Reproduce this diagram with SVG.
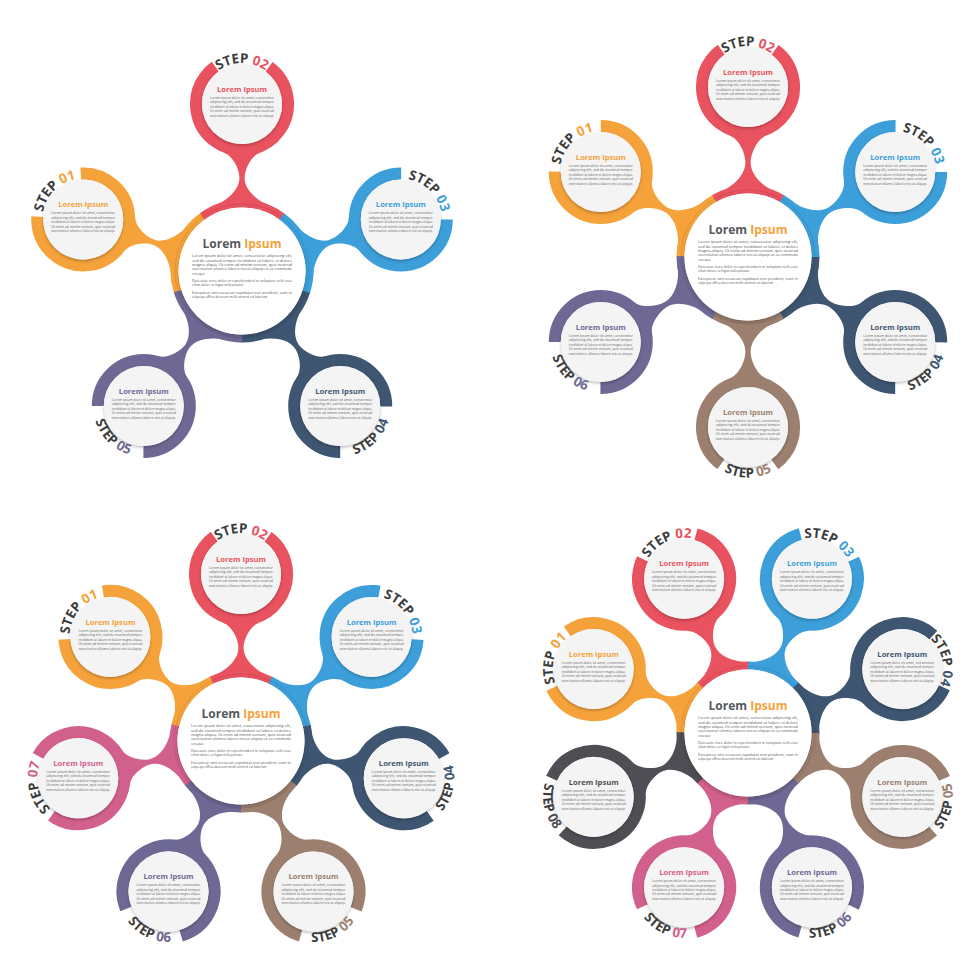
<svg xmlns="http://www.w3.org/2000/svg" xmlns:xlink="http://www.w3.org/1999/xlink" width="980" height="980" viewBox="0 0 980 980">
<style>
.or{--c:#F5A23A}.rd{--c:#E9525F}.bl{--c:#3C9FDA}.nv{--c:#3E5672}.pu{--c:#6E6894}.br{--c:#9C7F6F}.pk{--c:#D2608C}.dg{--c:#4F4E54}
.stem{fill:var(--c)}
.seg{fill:none;stroke:var(--c);stroke-width:8}
.hubline{fill:none;stroke:#000;stroke-opacity:0.12;stroke-width:0.8}
.ring{fill:none;stroke:var(--c);stroke-width:12}
.in{fill:#f4f4f4;filter:url(#sh)}
.hubin{fill:#ffffff;filter:url(#sh)}
.lbl{font-family:"Open Sans","DejaVu Sans",sans-serif;font-weight:700;font-size:13.4px;fill:#3b3b3b;text-anchor:middle}
.num{fill:var(--c)}
.nt{font-family:"Open Sans","DejaVu Sans",sans-serif;font-weight:700;font-size:7.6px;fill:var(--c);text-anchor:middle}
.nb{font-family:"Open Sans","DejaVu Sans",sans-serif;font-size:3.5px;fill:#666}
.ct{font-family:"Open Sans","DejaVu Sans",sans-serif;font-weight:700;font-size:12px;fill:#55585d;text-anchor:middle}
.cto{fill:#F5A23A}
.cb{font-family:"Open Sans","DejaVu Sans",sans-serif;font-size:4.1px;fill:#555}
</style>
<defs>
<filter id="sh" x="-30%" y="-30%" width="160%" height="160%"><feDropShadow dx="0" dy="1.5" stdDeviation="1.5" flood-color="#000" flood-opacity="0.28"/></filter>
<path id="cw" d="M 0,-41 A 41 41 0 0 1 0,41"/>
<path id="ccw" d="M 0,50.5 A 50.5 50.5 0 0 0 0,-50.5"/>
<path id="st167" d="M 65.83,26.6 C 71.1,13.6 82,2.6 93,2.6 C 102,2.6 115.06,9.33 118.14,17.79 L 118.14,-17.79 C 115.06,-9.33 102,-2.6 93,-2.6 C 82,-2.6 71.1,-13.6 65.83,-26.6 Z"/>
<path id="st170" d="M 65.83,26.6 C 71.1,13.6 83,2.6 94.5,2.6 C 104,2.6 118.06,9.33 121.14,17.79 L 121.14,-17.79 C 118.06,-9.33 104,-2.6 94.5,-2.6 C 83,-2.6 71.1,-13.6 65.83,-26.6 Z"/>
</defs>
<rect width="980" height="980" fill="#ffffff"/>

<g id="connectors">
<use href="#st167" class="stem or" transform="translate(242,271) rotate(198)"/>
<use href="#st167" class="stem rd" transform="translate(242,271) rotate(270)"/>
<use href="#st167" class="stem bl" transform="translate(242,271) rotate(342)"/>
<use href="#st167" class="stem nv" transform="translate(242,271) rotate(54)"/>
<use href="#st167" class="stem pu" transform="translate(242,271) rotate(126)"/>

<use href="#st170" class="stem or" transform="translate(748,257) rotate(210)"/>
<use href="#st170" class="stem rd" transform="translate(748,257) rotate(270)"/>
<use href="#st170" class="stem bl" transform="translate(748,257) rotate(330)"/>
<use href="#st170" class="stem nv" transform="translate(748,257) rotate(30)"/>
<use href="#st170" class="stem br" transform="translate(748,257) rotate(90)"/>
<use href="#st170" class="stem pu" transform="translate(748,257) rotate(150)"/>

<use href="#st167" class="stem or" transform="translate(241,741) rotate(218.57)"/>
<use href="#st167" class="stem rd" transform="translate(241,741) rotate(270)"/>
<use href="#st167" class="stem bl" transform="translate(241,741) rotate(321.43)"/>
<use href="#st167" class="stem nv" transform="translate(241,741) rotate(12.86)"/>
<use href="#st167" class="stem br" transform="translate(241,741) rotate(64.29)"/>
<use href="#st167" class="stem pu" transform="translate(241,741) rotate(115.71)"/>
<use href="#st167" class="stem pk" transform="translate(241,741) rotate(167.14)"/>

<use href="#st167" class="stem or" transform="translate(748,733) rotate(202.5)"/>
<use href="#st167" class="stem rd" transform="translate(748,733) rotate(247.5)"/>
<use href="#st167" class="stem bl" transform="translate(748,733) rotate(292.5)"/>
<use href="#st167" class="stem nv" transform="translate(748,733) rotate(337.5)"/>
<use href="#st167" class="stem br" transform="translate(748,733) rotate(22.5)"/>
<use href="#st167" class="stem pu" transform="translate(748,733) rotate(67.5)"/>
<use href="#st167" class="stem pk" transform="translate(748,733) rotate(112.5)"/>
<use href="#st167" class="stem dg" transform="translate(748,733) rotate(157.5)"/>
</g>

<!-- ===== PANEL 1 ===== -->
<g id="p1-hub" transform="translate(242,271)">
<circle class="seg or" r="67.5" stroke-dasharray="85.4 400" transform="rotate(162)"/>
<circle class="seg rd" r="67.5" stroke-dasharray="85.4 400" transform="rotate(234)"/>
<circle class="seg bl" r="67.5" stroke-dasharray="85.4 400" transform="rotate(306)"/>
<circle class="seg nv" r="67.5" stroke-dasharray="85.4 400" transform="rotate(18)"/>
<circle class="seg pu" r="67.5" stroke-dasharray="85.4 400" transform="rotate(90)"/>
<circle class="hubline" r="67"/>
<circle class="hubin" r="63.5"/>
<text class="ct" y="-23.5">Lorem <tspan class="cto">Ipsum</tspan></text>
<text class="cb" x="-50" y="-13.8" textLength="100" lengthAdjust="spacingAndGlyphs">Lorem ipsum dolor sit amet, consectetur adipiscing elit,</text>
<text class="cb" x="-50" y="-9.45" textLength="100" lengthAdjust="spacingAndGlyphs">sed do eiusmod tempor incididunt ut labore et dolore</text>
<text class="cb" x="-50" y="-5.1" textLength="100" lengthAdjust="spacingAndGlyphs">magna aliqua. Ut enim ad minim veniam, quis nostrud</text>
<text class="cb" x="-50" y="-0.75" textLength="100" lengthAdjust="spacingAndGlyphs">exercitation ullamco laboris nisi ut aliquip ex ea commodo</text>
<text class="cb" x="-50" y="3.6" textLength="13" lengthAdjust="spacingAndGlyphs">consequat.</text>
<text class="cb" x="-50" y="11" textLength="100" lengthAdjust="spacingAndGlyphs">Duis aute irure dolor in reprehenderit in voluptate velit esse</text>
<text class="cb" x="-50" y="15.35" textLength="52" lengthAdjust="spacingAndGlyphs">cillum dolore eu fugiat nulla pariatur.</text>
<text class="cb" x="-50" y="22.9" textLength="100" lengthAdjust="spacingAndGlyphs">Excepteur sint occaecat cupidatat non proident, sunt in</text>
<text class="cb" x="-50" y="27.25" textLength="76" lengthAdjust="spacingAndGlyphs">culpa qui officia deserunt mollit anim id est laborum.</text>
</g>

<g id="p1-step01" class="or" transform="translate(83.2,219.4)">
<circle class="ring" r="46" stroke-dasharray="221.6 67.4" transform="rotate(267)"/>
<circle class="in" r="40"/>
<text class="lbl" transform="rotate(225)"><textPath href="#cw" startOffset="50%">STEP <tspan class="num">01</tspan></textPath></text>
<text class="nt" y="-12.3">Lorem Ipsum</text>
<text class="nb" x="-32" y="-5.3" textLength="64" lengthAdjust="spacingAndGlyphs">Lorem ipsum dolor sit amet, consectetur</text>
<text class="nb" x="-32" y="-0.8" textLength="64" lengthAdjust="spacingAndGlyphs">adipiscing elit, sed do eiusmod tempor</text>
<text class="nb" x="-32" y="3.7" textLength="64" lengthAdjust="spacingAndGlyphs">incididunt ut labore et dolore magna aliqua.</text>
<text class="nb" x="-32" y="8.2" textLength="64" lengthAdjust="spacingAndGlyphs">Ut enim ad minim veniam, quis nostrud</text>
<text class="nb" x="-32" y="12.7" textLength="64" lengthAdjust="spacingAndGlyphs">exercitation ullamco laboris nisi ut aliquip.</text>
</g>

<g id="p1-step02" class="rd" transform="translate(242,104)">
<circle class="ring" r="46" stroke-dasharray="231.2 57.8" transform="rotate(-54)"/>
<circle class="in" r="40"/>
<text class="lbl" transform="rotate(-90)"><textPath href="#cw" startOffset="50%">STEP <tspan class="num">02</tspan></textPath></text>
<text class="nt" y="-12.3">Lorem Ipsum</text>
<text class="nb" x="-32" y="-5.3" textLength="64" lengthAdjust="spacingAndGlyphs">Lorem ipsum dolor sit amet, consectetur</text>
<text class="nb" x="-32" y="-0.8" textLength="64" lengthAdjust="spacingAndGlyphs">adipiscing elit, sed do eiusmod tempor</text>
<text class="nb" x="-32" y="3.7" textLength="64" lengthAdjust="spacingAndGlyphs">incididunt ut labore et dolore magna aliqua.</text>
<text class="nb" x="-32" y="8.2" textLength="64" lengthAdjust="spacingAndGlyphs">Ut enim ad minim veniam, quis nostrud</text>
<text class="nb" x="-32" y="12.7" textLength="64" lengthAdjust="spacingAndGlyphs">exercitation ullamco laboris nisi ut aliquip.</text>
</g>

<g id="p1-step03" class="bl" transform="translate(400.8,219.4)">
<circle class="ring" r="46" stroke-dasharray="216.8 72.3" transform="rotate(0)"/>
<circle class="in" r="40"/>
<text class="lbl" transform="rotate(-45)"><textPath href="#cw" startOffset="50%">STEP <tspan class="num">03</tspan></textPath></text>
<text class="nt" y="-12.3">Lorem Ipsum</text>
<text class="nb" x="-32" y="-5.3" textLength="64" lengthAdjust="spacingAndGlyphs">Lorem ipsum dolor sit amet, consectetur</text>
<text class="nb" x="-32" y="-0.8" textLength="64" lengthAdjust="spacingAndGlyphs">adipiscing elit, sed do eiusmod tempor</text>
<text class="nb" x="-32" y="3.7" textLength="64" lengthAdjust="spacingAndGlyphs">incididunt ut labore et dolore magna aliqua.</text>
<text class="nb" x="-32" y="8.2" textLength="64" lengthAdjust="spacingAndGlyphs">Ut enim ad minim veniam, quis nostrud</text>
<text class="nb" x="-32" y="12.7" textLength="64" lengthAdjust="spacingAndGlyphs">exercitation ullamco laboris nisi ut aliquip.</text>
</g>

<g id="p1-step04" class="nv" transform="translate(340.2,406.1)">
<circle class="ring" r="46" stroke-dasharray="216.8 72.3" transform="rotate(90)"/>
<circle class="in" r="40"/>
<text class="lbl" transform="rotate(45)"><textPath href="#ccw" startOffset="50%">STEP <tspan class="num">04</tspan></textPath></text>
<text class="nt" y="-12.3">Lorem Ipsum</text>
<text class="nb" x="-32" y="-5.3" textLength="64" lengthAdjust="spacingAndGlyphs">Lorem ipsum dolor sit amet, consectetur</text>
<text class="nb" x="-32" y="-0.8" textLength="64" lengthAdjust="spacingAndGlyphs">adipiscing elit, sed do eiusmod tempor</text>
<text class="nb" x="-32" y="3.7" textLength="64" lengthAdjust="spacingAndGlyphs">incididunt ut labore et dolore magna aliqua.</text>
<text class="nb" x="-32" y="8.2" textLength="64" lengthAdjust="spacingAndGlyphs">Ut enim ad minim veniam, quis nostrud</text>
<text class="nb" x="-32" y="12.7" textLength="64" lengthAdjust="spacingAndGlyphs">exercitation ullamco laboris nisi ut aliquip.</text>
</g>

<g id="p1-step05" class="pu" transform="translate(143.8,406.1)">
<circle class="ring" r="46" stroke-dasharray="216.8 72.3" transform="rotate(180)"/>
<circle class="in" r="40"/>
<text class="lbl" transform="rotate(135)"><textPath href="#ccw" startOffset="50%">STEP <tspan class="num">05</tspan></textPath></text>
<text class="nt" y="-12.3">Lorem Ipsum</text>
<text class="nb" x="-32" y="-5.3" textLength="64" lengthAdjust="spacingAndGlyphs">Lorem ipsum dolor sit amet, consectetur</text>
<text class="nb" x="-32" y="-0.8" textLength="64" lengthAdjust="spacingAndGlyphs">adipiscing elit, sed do eiusmod tempor</text>
<text class="nb" x="-32" y="3.7" textLength="64" lengthAdjust="spacingAndGlyphs">incididunt ut labore et dolore magna aliqua.</text>
<text class="nb" x="-32" y="8.2" textLength="64" lengthAdjust="spacingAndGlyphs">Ut enim ad minim veniam, quis nostrud</text>
<text class="nb" x="-32" y="12.7" textLength="64" lengthAdjust="spacingAndGlyphs">exercitation ullamco laboris nisi ut aliquip.</text>
</g>

<!-- ===== PANEL 2 ===== -->
<g id="p2-hub" transform="translate(748,257)">
<circle class="seg or" r="67.5" stroke-dasharray="71.3 400" transform="rotate(180)"/>
<circle class="seg rd" r="67.5" stroke-dasharray="71.3 400" transform="rotate(240)"/>
<circle class="seg bl" r="67.5" stroke-dasharray="71.3 400" transform="rotate(300)"/>
<circle class="seg nv" r="67.5" stroke-dasharray="71.3 400" transform="rotate(0)"/>
<circle class="seg br" r="67.5" stroke-dasharray="71.3 400" transform="rotate(60)"/>
<circle class="seg pu" r="67.5" stroke-dasharray="71.3 400" transform="rotate(120)"/>
<circle class="hubline" r="67"/>
<circle class="hubin" r="63.5"/>
<text class="ct" y="-23.5">Lorem <tspan class="cto">Ipsum</tspan></text>
<text class="cb" x="-50" y="-13.8" textLength="100" lengthAdjust="spacingAndGlyphs">Lorem ipsum dolor sit amet, consectetur adipiscing elit,</text>
<text class="cb" x="-50" y="-9.45" textLength="100" lengthAdjust="spacingAndGlyphs">sed do eiusmod tempor incididunt ut labore et dolore</text>
<text class="cb" x="-50" y="-5.1" textLength="100" lengthAdjust="spacingAndGlyphs">magna aliqua. Ut enim ad minim veniam, quis nostrud</text>
<text class="cb" x="-50" y="-0.75" textLength="100" lengthAdjust="spacingAndGlyphs">exercitation ullamco laboris nisi ut aliquip ex ea commodo</text>
<text class="cb" x="-50" y="3.6" textLength="13" lengthAdjust="spacingAndGlyphs">consequat.</text>
<text class="cb" x="-50" y="11" textLength="100" lengthAdjust="spacingAndGlyphs">Duis aute irure dolor in reprehenderit in voluptate velit esse</text>
<text class="cb" x="-50" y="15.35" textLength="52" lengthAdjust="spacingAndGlyphs">cillum dolore eu fugiat nulla pariatur.</text>
<text class="cb" x="-50" y="22.9" textLength="100" lengthAdjust="spacingAndGlyphs">Excepteur sint occaecat cupidatat non proident, sunt in</text>
<text class="cb" x="-50" y="27.25" textLength="76" lengthAdjust="spacingAndGlyphs">culpa qui officia deserunt mollit anim id est laborum.</text>
</g>

<g id="p2-step01" class="or" transform="translate(600.8,172)">
<circle class="ring" r="46" stroke-dasharray="216.8 72.3" transform="rotate(270)"/>
<circle class="in" r="40"/>
<text class="lbl" transform="rotate(225)"><textPath href="#cw" startOffset="50%">STEP <tspan class="num">01</tspan></textPath></text>
<text class="nt" y="-12.3">Lorem Ipsum</text>
<text class="nb" x="-32" y="-5.3" textLength="64" lengthAdjust="spacingAndGlyphs">Lorem ipsum dolor sit amet, consectetur</text>
<text class="nb" x="-32" y="-0.8" textLength="64" lengthAdjust="spacingAndGlyphs">adipiscing elit, sed do eiusmod tempor</text>
<text class="nb" x="-32" y="3.7" textLength="64" lengthAdjust="spacingAndGlyphs">incididunt ut labore et dolore magna aliqua.</text>
<text class="nb" x="-32" y="8.2" textLength="64" lengthAdjust="spacingAndGlyphs">Ut enim ad minim veniam, quis nostrud</text>
<text class="nb" x="-32" y="12.7" textLength="64" lengthAdjust="spacingAndGlyphs">exercitation ullamco laboris nisi ut aliquip.</text>
</g>

<g id="p2-step02" class="rd" transform="translate(748,87)">
<circle class="ring" r="46" stroke-dasharray="231.2 57.8" transform="rotate(-54)"/>
<circle class="in" r="40"/>
<text class="lbl" transform="rotate(-90)"><textPath href="#cw" startOffset="50%">STEP <tspan class="num">02</tspan></textPath></text>
<text class="nt" y="-12.3">Lorem Ipsum</text>
<text class="nb" x="-32" y="-5.3" textLength="64" lengthAdjust="spacingAndGlyphs">Lorem ipsum dolor sit amet, consectetur</text>
<text class="nb" x="-32" y="-0.8" textLength="64" lengthAdjust="spacingAndGlyphs">adipiscing elit, sed do eiusmod tempor</text>
<text class="nb" x="-32" y="3.7" textLength="64" lengthAdjust="spacingAndGlyphs">incididunt ut labore et dolore magna aliqua.</text>
<text class="nb" x="-32" y="8.2" textLength="64" lengthAdjust="spacingAndGlyphs">Ut enim ad minim veniam, quis nostrud</text>
<text class="nb" x="-32" y="12.7" textLength="64" lengthAdjust="spacingAndGlyphs">exercitation ullamco laboris nisi ut aliquip.</text>
</g>

<g id="p2-step03" class="bl" transform="translate(895.2,172)">
<circle class="ring" r="46" stroke-dasharray="216.8 72.3" transform="rotate(0)"/>
<circle class="in" r="40"/>
<text class="lbl" transform="rotate(-45)"><textPath href="#cw" startOffset="50%">STEP <tspan class="num">03</tspan></textPath></text>
<text class="nt" y="-12.3">Lorem Ipsum</text>
<text class="nb" x="-32" y="-5.3" textLength="64" lengthAdjust="spacingAndGlyphs">Lorem ipsum dolor sit amet, consectetur</text>
<text class="nb" x="-32" y="-0.8" textLength="64" lengthAdjust="spacingAndGlyphs">adipiscing elit, sed do eiusmod tempor</text>
<text class="nb" x="-32" y="3.7" textLength="64" lengthAdjust="spacingAndGlyphs">incididunt ut labore et dolore magna aliqua.</text>
<text class="nb" x="-32" y="8.2" textLength="64" lengthAdjust="spacingAndGlyphs">Ut enim ad minim veniam, quis nostrud</text>
<text class="nb" x="-32" y="12.7" textLength="64" lengthAdjust="spacingAndGlyphs">exercitation ullamco laboris nisi ut aliquip.</text>
</g>

<g id="p2-step04" class="nv" transform="translate(895.2,342)">
<circle class="ring" r="46" stroke-dasharray="216.8 72.3" transform="rotate(90)"/>
<circle class="in" r="40"/>
<text class="lbl" transform="rotate(45)"><textPath href="#ccw" startOffset="50%">STEP <tspan class="num">04</tspan></textPath></text>
<text class="nt" y="-12.3">Lorem Ipsum</text>
<text class="nb" x="-32" y="-5.3" textLength="64" lengthAdjust="spacingAndGlyphs">Lorem ipsum dolor sit amet, consectetur</text>
<text class="nb" x="-32" y="-0.8" textLength="64" lengthAdjust="spacingAndGlyphs">adipiscing elit, sed do eiusmod tempor</text>
<text class="nb" x="-32" y="3.7" textLength="64" lengthAdjust="spacingAndGlyphs">incididunt ut labore et dolore magna aliqua.</text>
<text class="nb" x="-32" y="8.2" textLength="64" lengthAdjust="spacingAndGlyphs">Ut enim ad minim veniam, quis nostrud</text>
<text class="nb" x="-32" y="12.7" textLength="64" lengthAdjust="spacingAndGlyphs">exercitation ullamco laboris nisi ut aliquip.</text>
</g>

<g id="p2-step05" class="br" transform="translate(748,427)">
<circle class="ring" r="46" stroke-dasharray="231.2 57.8" transform="rotate(126)"/>
<circle class="in" r="40"/>
<text class="lbl" transform="rotate(90)"><textPath href="#ccw" startOffset="50%">STEP <tspan class="num">05</tspan></textPath></text>
<text class="nt" y="-12.3">Lorem Ipsum</text>
<text class="nb" x="-32" y="-5.3" textLength="64" lengthAdjust="spacingAndGlyphs">Lorem ipsum dolor sit amet, consectetur</text>
<text class="nb" x="-32" y="-0.8" textLength="64" lengthAdjust="spacingAndGlyphs">adipiscing elit, sed do eiusmod tempor</text>
<text class="nb" x="-32" y="3.7" textLength="64" lengthAdjust="spacingAndGlyphs">incididunt ut labore et dolore magna aliqua.</text>
<text class="nb" x="-32" y="8.2" textLength="64" lengthAdjust="spacingAndGlyphs">Ut enim ad minim veniam, quis nostrud</text>
<text class="nb" x="-32" y="12.7" textLength="64" lengthAdjust="spacingAndGlyphs">exercitation ullamco laboris nisi ut aliquip.</text>
</g>

<g id="p2-step06" class="pu" transform="translate(600.8,342)">
<circle class="ring" r="46" stroke-dasharray="216.8 72.3" transform="rotate(180)"/>
<circle class="in" r="40"/>
<text class="lbl" transform="rotate(135)"><textPath href="#ccw" startOffset="50%">STEP <tspan class="num">06</tspan></textPath></text>
<text class="nt" y="-12.3">Lorem Ipsum</text>
<text class="nb" x="-32" y="-5.3" textLength="64" lengthAdjust="spacingAndGlyphs">Lorem ipsum dolor sit amet, consectetur</text>
<text class="nb" x="-32" y="-0.8" textLength="64" lengthAdjust="spacingAndGlyphs">adipiscing elit, sed do eiusmod tempor</text>
<text class="nb" x="-32" y="3.7" textLength="64" lengthAdjust="spacingAndGlyphs">incididunt ut labore et dolore magna aliqua.</text>
<text class="nb" x="-32" y="8.2" textLength="64" lengthAdjust="spacingAndGlyphs">Ut enim ad minim veniam, quis nostrud</text>
<text class="nb" x="-32" y="12.7" textLength="64" lengthAdjust="spacingAndGlyphs">exercitation ullamco laboris nisi ut aliquip.</text>
</g>

<!-- ===== PANEL 3 ===== -->
<g id="p3-hub" transform="translate(241,741)">
<circle class="seg or" r="67.5" stroke-dasharray="61.2 400" transform="rotate(192.86)"/>
<circle class="seg rd" r="67.5" stroke-dasharray="61.2 400" transform="rotate(244.29)"/>
<circle class="seg bl" r="67.5" stroke-dasharray="61.2 400" transform="rotate(295.71)"/>
<circle class="seg nv" r="67.5" stroke-dasharray="61.2 400" transform="rotate(-12.86)"/>
<circle class="seg br" r="67.5" stroke-dasharray="61.2 400" transform="rotate(38.57)"/>
<circle class="seg pu" r="67.5" stroke-dasharray="61.2 400" transform="rotate(90)"/>
<circle class="seg pk" r="67.5" stroke-dasharray="61.2 400" transform="rotate(141.43)"/>
<circle class="hubline" r="67"/>
<circle class="hubin" r="63.5"/>
<text class="ct" y="-23.5">Lorem <tspan class="cto">Ipsum</tspan></text>
<text class="cb" x="-50" y="-13.8" textLength="100" lengthAdjust="spacingAndGlyphs">Lorem ipsum dolor sit amet, consectetur adipiscing elit,</text>
<text class="cb" x="-50" y="-9.45" textLength="100" lengthAdjust="spacingAndGlyphs">sed do eiusmod tempor incididunt ut labore et dolore</text>
<text class="cb" x="-50" y="-5.1" textLength="100" lengthAdjust="spacingAndGlyphs">magna aliqua. Ut enim ad minim veniam, quis nostrud</text>
<text class="cb" x="-50" y="-0.75" textLength="100" lengthAdjust="spacingAndGlyphs">exercitation ullamco laboris nisi ut aliquip ex ea commodo</text>
<text class="cb" x="-50" y="3.6" textLength="13" lengthAdjust="spacingAndGlyphs">consequat.</text>
<text class="cb" x="-50" y="11" textLength="100" lengthAdjust="spacingAndGlyphs">Duis aute irure dolor in reprehenderit in voluptate velit esse</text>
<text class="cb" x="-50" y="15.35" textLength="52" lengthAdjust="spacingAndGlyphs">cillum dolore eu fugiat nulla pariatur.</text>
<text class="cb" x="-50" y="22.9" textLength="100" lengthAdjust="spacingAndGlyphs">Excepteur sint occaecat cupidatat non proident, sunt in</text>
<text class="cb" x="-50" y="27.25" textLength="76" lengthAdjust="spacingAndGlyphs">culpa qui officia deserunt mollit anim id est laborum.</text>
</g>

<g id="p3-step01" class="or" transform="translate(110.4,636.9)">
<circle class="ring" r="46" stroke-dasharray="221.6 67.4" transform="rotate(260.6)"/>
<circle class="in" r="40"/>
<text class="lbl" transform="rotate(218.6)"><textPath href="#cw" startOffset="50%">STEP <tspan class="num">01</tspan></textPath></text>
<text class="nt" y="-12.3">Lorem Ipsum</text>
<text class="nb" x="-32" y="-5.3" textLength="64" lengthAdjust="spacingAndGlyphs">Lorem ipsum dolor sit amet, consectetur</text>
<text class="nb" x="-32" y="-0.8" textLength="64" lengthAdjust="spacingAndGlyphs">adipiscing elit, sed do eiusmod tempor</text>
<text class="nb" x="-32" y="3.7" textLength="64" lengthAdjust="spacingAndGlyphs">incididunt ut labore et dolore magna aliqua.</text>
<text class="nb" x="-32" y="8.2" textLength="64" lengthAdjust="spacingAndGlyphs">Ut enim ad minim veniam, quis nostrud</text>
<text class="nb" x="-32" y="12.7" textLength="64" lengthAdjust="spacingAndGlyphs">exercitation ullamco laboris nisi ut aliquip.</text>
</g>

<g id="p3-step02" class="rd" transform="translate(241,574)">
<circle class="ring" r="46" stroke-dasharray="231.2 57.8" transform="rotate(-54)"/>
<circle class="in" r="40"/>
<text class="lbl" transform="rotate(-90)"><textPath href="#cw" startOffset="50%">STEP <tspan class="num">02</tspan></textPath></text>
<text class="nt" y="-12.3">Lorem Ipsum</text>
<text class="nb" x="-32" y="-5.3" textLength="64" lengthAdjust="spacingAndGlyphs">Lorem ipsum dolor sit amet, consectetur</text>
<text class="nb" x="-32" y="-0.8" textLength="64" lengthAdjust="spacingAndGlyphs">adipiscing elit, sed do eiusmod tempor</text>
<text class="nb" x="-32" y="3.7" textLength="64" lengthAdjust="spacingAndGlyphs">incididunt ut labore et dolore magna aliqua.</text>
<text class="nb" x="-32" y="8.2" textLength="64" lengthAdjust="spacingAndGlyphs">Ut enim ad minim veniam, quis nostrud</text>
<text class="nb" x="-32" y="12.7" textLength="64" lengthAdjust="spacingAndGlyphs">exercitation ullamco laboris nisi ut aliquip.</text>
</g>

<g id="p3-step03" class="bl" transform="translate(371.6,636.9)">
<circle class="ring" r="46" stroke-dasharray="221.6 67.4" transform="rotate(3.4)"/>
<circle class="in" r="40"/>
<text class="lbl" transform="rotate(-38.6)"><textPath href="#cw" startOffset="50%">STEP <tspan class="num">03</tspan></textPath></text>
<text class="nt" y="-12.3">Lorem Ipsum</text>
<text class="nb" x="-32" y="-5.3" textLength="64" lengthAdjust="spacingAndGlyphs">Lorem ipsum dolor sit amet, consectetur</text>
<text class="nb" x="-32" y="-0.8" textLength="64" lengthAdjust="spacingAndGlyphs">adipiscing elit, sed do eiusmod tempor</text>
<text class="nb" x="-32" y="3.7" textLength="64" lengthAdjust="spacingAndGlyphs">incididunt ut labore et dolore magna aliqua.</text>
<text class="nb" x="-32" y="8.2" textLength="64" lengthAdjust="spacingAndGlyphs">Ut enim ad minim veniam, quis nostrud</text>
<text class="nb" x="-32" y="12.7" textLength="64" lengthAdjust="spacingAndGlyphs">exercitation ullamco laboris nisi ut aliquip.</text>
</g>

<g id="p3-step04" class="nv" transform="translate(403.8,778.2)">
<circle class="ring" r="46" stroke-dasharray="221.6 67.4" transform="rotate(54.9)"/>
<circle class="in" r="40"/>
<text class="lbl" transform="rotate(12.9)"><textPath href="#ccw" startOffset="50%">STEP <tspan class="num">04</tspan></textPath></text>
<text class="nt" y="-12.3">Lorem Ipsum</text>
<text class="nb" x="-32" y="-5.3" textLength="64" lengthAdjust="spacingAndGlyphs">Lorem ipsum dolor sit amet, consectetur</text>
<text class="nb" x="-32" y="-0.8" textLength="64" lengthAdjust="spacingAndGlyphs">adipiscing elit, sed do eiusmod tempor</text>
<text class="nb" x="-32" y="3.7" textLength="64" lengthAdjust="spacingAndGlyphs">incididunt ut labore et dolore magna aliqua.</text>
<text class="nb" x="-32" y="8.2" textLength="64" lengthAdjust="spacingAndGlyphs">Ut enim ad minim veniam, quis nostrud</text>
<text class="nb" x="-32" y="12.7" textLength="64" lengthAdjust="spacingAndGlyphs">exercitation ullamco laboris nisi ut aliquip.</text>
</g>

<g id="p3-step05" class="br" transform="translate(313.5,891.5)">
<circle class="ring" r="46" stroke-dasharray="221.6 67.4" transform="rotate(106.3)"/>
<circle class="in" r="40"/>
<text class="lbl" transform="rotate(64.3)"><textPath href="#ccw" startOffset="50%">STEP <tspan class="num">05</tspan></textPath></text>
<text class="nt" y="-12.3">Lorem Ipsum</text>
<text class="nb" x="-32" y="-5.3" textLength="64" lengthAdjust="spacingAndGlyphs">Lorem ipsum dolor sit amet, consectetur</text>
<text class="nb" x="-32" y="-0.8" textLength="64" lengthAdjust="spacingAndGlyphs">adipiscing elit, sed do eiusmod tempor</text>
<text class="nb" x="-32" y="3.7" textLength="64" lengthAdjust="spacingAndGlyphs">incididunt ut labore et dolore magna aliqua.</text>
<text class="nb" x="-32" y="8.2" textLength="64" lengthAdjust="spacingAndGlyphs">Ut enim ad minim veniam, quis nostrud</text>
<text class="nb" x="-32" y="12.7" textLength="64" lengthAdjust="spacingAndGlyphs">exercitation ullamco laboris nisi ut aliquip.</text>
</g>

<g id="p3-step06" class="pu" transform="translate(168.5,891.5)">
<circle class="ring" r="46" stroke-dasharray="221.6 67.4" transform="rotate(157.7)"/>
<circle class="in" r="40"/>
<text class="lbl" transform="rotate(115.7)"><textPath href="#ccw" startOffset="50%">STEP <tspan class="num">06</tspan></textPath></text>
<text class="nt" y="-12.3">Lorem Ipsum</text>
<text class="nb" x="-32" y="-5.3" textLength="64" lengthAdjust="spacingAndGlyphs">Lorem ipsum dolor sit amet, consectetur</text>
<text class="nb" x="-32" y="-0.8" textLength="64" lengthAdjust="spacingAndGlyphs">adipiscing elit, sed do eiusmod tempor</text>
<text class="nb" x="-32" y="3.7" textLength="64" lengthAdjust="spacingAndGlyphs">incididunt ut labore et dolore magna aliqua.</text>
<text class="nb" x="-32" y="8.2" textLength="64" lengthAdjust="spacingAndGlyphs">Ut enim ad minim veniam, quis nostrud</text>
<text class="nb" x="-32" y="12.7" textLength="64" lengthAdjust="spacingAndGlyphs">exercitation ullamco laboris nisi ut aliquip.</text>
</g>

<g id="p3-step07" class="pk" transform="translate(78.2,778.2)">
<circle class="ring" r="46" stroke-dasharray="221.6 67.4" transform="rotate(209.1)"/>
<circle class="in" r="40"/>
<text class="lbl" transform="rotate(167.1)"><textPath href="#cw" startOffset="50%">STEP <tspan class="num">07</tspan></textPath></text>
<text class="nt" y="-12.3">Lorem Ipsum</text>
<text class="nb" x="-32" y="-5.3" textLength="64" lengthAdjust="spacingAndGlyphs">Lorem ipsum dolor sit amet, consectetur</text>
<text class="nb" x="-32" y="-0.8" textLength="64" lengthAdjust="spacingAndGlyphs">adipiscing elit, sed do eiusmod tempor</text>
<text class="nb" x="-32" y="3.7" textLength="64" lengthAdjust="spacingAndGlyphs">incididunt ut labore et dolore magna aliqua.</text>
<text class="nb" x="-32" y="8.2" textLength="64" lengthAdjust="spacingAndGlyphs">Ut enim ad minim veniam, quis nostrud</text>
<text class="nb" x="-32" y="12.7" textLength="64" lengthAdjust="spacingAndGlyphs">exercitation ullamco laboris nisi ut aliquip.</text>
</g>

<!-- ===== PANEL 4 ===== -->
<g id="p4-hub" transform="translate(748,733)">
<circle class="seg or" r="67.5" stroke-dasharray="53.6 400" transform="rotate(180)"/>
<circle class="seg rd" r="67.5" stroke-dasharray="53.6 400" transform="rotate(225)"/>
<circle class="seg bl" r="67.5" stroke-dasharray="53.6 400" transform="rotate(270)"/>
<circle class="seg nv" r="67.5" stroke-dasharray="53.6 400" transform="rotate(315)"/>
<circle class="seg br" r="67.5" stroke-dasharray="53.6 400" transform="rotate(0)"/>
<circle class="seg pu" r="67.5" stroke-dasharray="53.6 400" transform="rotate(45)"/>
<circle class="seg pk" r="67.5" stroke-dasharray="53.6 400" transform="rotate(90)"/>
<circle class="seg dg" r="67.5" stroke-dasharray="53.6 400" transform="rotate(135)"/>
<circle class="hubline" r="67"/>
<circle class="hubin" r="63.5"/>
<text class="ct" y="-23.5">Lorem <tspan class="cto">Ipsum</tspan></text>
<text class="cb" x="-50" y="-13.8" textLength="100" lengthAdjust="spacingAndGlyphs">Lorem ipsum dolor sit amet, consectetur adipiscing elit,</text>
<text class="cb" x="-50" y="-9.45" textLength="100" lengthAdjust="spacingAndGlyphs">sed do eiusmod tempor incididunt ut labore et dolore</text>
<text class="cb" x="-50" y="-5.1" textLength="100" lengthAdjust="spacingAndGlyphs">magna aliqua. Ut enim ad minim veniam, quis nostrud</text>
<text class="cb" x="-50" y="-0.75" textLength="100" lengthAdjust="spacingAndGlyphs">exercitation ullamco laboris nisi ut aliquip ex ea commodo</text>
<text class="cb" x="-50" y="3.6" textLength="13" lengthAdjust="spacingAndGlyphs">consequat.</text>
<text class="cb" x="-50" y="11" textLength="100" lengthAdjust="spacingAndGlyphs">Duis aute irure dolor in reprehenderit in voluptate velit esse</text>
<text class="cb" x="-50" y="15.35" textLength="52" lengthAdjust="spacingAndGlyphs">cillum dolore eu fugiat nulla pariatur.</text>
<text class="cb" x="-50" y="22.9" textLength="100" lengthAdjust="spacingAndGlyphs">Excepteur sint occaecat cupidatat non proident, sunt in</text>
<text class="cb" x="-50" y="27.25" textLength="76" lengthAdjust="spacingAndGlyphs">culpa qui officia deserunt mollit anim id est laborum.</text>
</g>

<g id="p4-step01" class="or" transform="translate(593.7,669.1)">
<circle class="ring" r="46" stroke-dasharray="224.8 64.2" transform="rotate(235)"/>
<circle class="in" r="40"/>
<text class="lbl" transform="rotate(195)"><textPath href="#cw" startOffset="50%">STEP <tspan class="num">01</tspan></textPath></text>
<text class="nt" y="-12.3">Lorem Ipsum</text>
<text class="nb" x="-32" y="-5.3" textLength="64" lengthAdjust="spacingAndGlyphs">Lorem ipsum dolor sit amet, consectetur</text>
<text class="nb" x="-32" y="-0.8" textLength="64" lengthAdjust="spacingAndGlyphs">adipiscing elit, sed do eiusmod tempor</text>
<text class="nb" x="-32" y="3.7" textLength="64" lengthAdjust="spacingAndGlyphs">incididunt ut labore et dolore magna aliqua.</text>
<text class="nb" x="-32" y="8.2" textLength="64" lengthAdjust="spacingAndGlyphs">Ut enim ad minim veniam, quis nostrud</text>
<text class="nb" x="-32" y="12.7" textLength="64" lengthAdjust="spacingAndGlyphs">exercitation ullamco laboris nisi ut aliquip.</text>
</g>

<g id="p4-step02" class="rd" transform="translate(684.1,578.7)">
<circle class="ring" r="46" stroke-dasharray="224.8 64.2" transform="rotate(-75)"/>
<circle class="in" r="40"/>
<text class="lbl" transform="rotate(-115)"><textPath href="#cw" startOffset="50%">STEP <tspan class="num">02</tspan></textPath></text>
<text class="nt" y="-12.3">Lorem Ipsum</text>
<text class="nb" x="-32" y="-5.3" textLength="64" lengthAdjust="spacingAndGlyphs">Lorem ipsum dolor sit amet, consectetur</text>
<text class="nb" x="-32" y="-0.8" textLength="64" lengthAdjust="spacingAndGlyphs">adipiscing elit, sed do eiusmod tempor</text>
<text class="nb" x="-32" y="3.7" textLength="64" lengthAdjust="spacingAndGlyphs">incididunt ut labore et dolore magna aliqua.</text>
<text class="nb" x="-32" y="8.2" textLength="64" lengthAdjust="spacingAndGlyphs">Ut enim ad minim veniam, quis nostrud</text>
<text class="nb" x="-32" y="12.7" textLength="64" lengthAdjust="spacingAndGlyphs">exercitation ullamco laboris nisi ut aliquip.</text>
</g>

<g id="p4-step03" class="bl" transform="translate(811.9,578.7)">
<circle class="ring" r="46" stroke-dasharray="224.8 64.2" transform="rotate(-25)"/>
<circle class="in" r="40"/>
<text class="lbl" transform="rotate(-65)"><textPath href="#cw" startOffset="50%">STEP <tspan class="num">03</tspan></textPath></text>
<text class="nt" y="-12.3">Lorem Ipsum</text>
<text class="nb" x="-32" y="-5.3" textLength="64" lengthAdjust="spacingAndGlyphs">Lorem ipsum dolor sit amet, consectetur</text>
<text class="nb" x="-32" y="-0.8" textLength="64" lengthAdjust="spacingAndGlyphs">adipiscing elit, sed do eiusmod tempor</text>
<text class="nb" x="-32" y="3.7" textLength="64" lengthAdjust="spacingAndGlyphs">incididunt ut labore et dolore magna aliqua.</text>
<text class="nb" x="-32" y="8.2" textLength="64" lengthAdjust="spacingAndGlyphs">Ut enim ad minim veniam, quis nostrud</text>
<text class="nb" x="-32" y="12.7" textLength="64" lengthAdjust="spacingAndGlyphs">exercitation ullamco laboris nisi ut aliquip.</text>
</g>

<g id="p4-step04" class="nv" transform="translate(902.3,669.1)">
<circle class="ring" r="46" stroke-dasharray="231.2 57.8" transform="rotate(24)"/>
<circle class="in" r="40"/>
<text class="lbl" transform="rotate(-12)"><textPath href="#cw" startOffset="50%">STEP <tspan class="num">04</tspan></textPath></text>
<text class="nt" y="-12.3">Lorem Ipsum</text>
<text class="nb" x="-32" y="-5.3" textLength="64" lengthAdjust="spacingAndGlyphs">Lorem ipsum dolor sit amet, consectetur</text>
<text class="nb" x="-32" y="-0.8" textLength="64" lengthAdjust="spacingAndGlyphs">adipiscing elit, sed do eiusmod tempor</text>
<text class="nb" x="-32" y="3.7" textLength="64" lengthAdjust="spacingAndGlyphs">incididunt ut labore et dolore magna aliqua.</text>
<text class="nb" x="-32" y="8.2" textLength="64" lengthAdjust="spacingAndGlyphs">Ut enim ad minim veniam, quis nostrud</text>
<text class="nb" x="-32" y="12.7" textLength="64" lengthAdjust="spacingAndGlyphs">exercitation ullamco laboris nisi ut aliquip.</text>
</g>

<g id="p4-step05" class="br" transform="translate(902.3,796.9)">
<circle class="ring" r="46" stroke-dasharray="231.2 57.8" transform="rotate(48)"/>
<circle class="in" r="40"/>
<text class="lbl" transform="rotate(12)"><textPath href="#ccw" startOffset="50%">STEP <tspan class="num">05</tspan></textPath></text>
<text class="nt" y="-12.3">Lorem Ipsum</text>
<text class="nb" x="-32" y="-5.3" textLength="64" lengthAdjust="spacingAndGlyphs">Lorem ipsum dolor sit amet, consectetur</text>
<text class="nb" x="-32" y="-0.8" textLength="64" lengthAdjust="spacingAndGlyphs">adipiscing elit, sed do eiusmod tempor</text>
<text class="nb" x="-32" y="3.7" textLength="64" lengthAdjust="spacingAndGlyphs">incididunt ut labore et dolore magna aliqua.</text>
<text class="nb" x="-32" y="8.2" textLength="64" lengthAdjust="spacingAndGlyphs">Ut enim ad minim veniam, quis nostrud</text>
<text class="nb" x="-32" y="12.7" textLength="64" lengthAdjust="spacingAndGlyphs">exercitation ullamco laboris nisi ut aliquip.</text>
</g>

<g id="p4-step06" class="pu" transform="translate(811.9,887.3)">
<circle class="ring" r="46" stroke-dasharray="224.8 64.2" transform="rotate(105)"/>
<circle class="in" r="40"/>
<text class="lbl" transform="rotate(65)"><textPath href="#ccw" startOffset="50%">STEP <tspan class="num">06</tspan></textPath></text>
<text class="nt" y="-12.3">Lorem Ipsum</text>
<text class="nb" x="-32" y="-5.3" textLength="64" lengthAdjust="spacingAndGlyphs">Lorem ipsum dolor sit amet, consectetur</text>
<text class="nb" x="-32" y="-0.8" textLength="64" lengthAdjust="spacingAndGlyphs">adipiscing elit, sed do eiusmod tempor</text>
<text class="nb" x="-32" y="3.7" textLength="64" lengthAdjust="spacingAndGlyphs">incididunt ut labore et dolore magna aliqua.</text>
<text class="nb" x="-32" y="8.2" textLength="64" lengthAdjust="spacingAndGlyphs">Ut enim ad minim veniam, quis nostrud</text>
<text class="nb" x="-32" y="12.7" textLength="64" lengthAdjust="spacingAndGlyphs">exercitation ullamco laboris nisi ut aliquip.</text>
</g>

<g id="p4-step07" class="pk" transform="translate(684.1,887.3)">
<circle class="ring" r="46" stroke-dasharray="224.8 64.2" transform="rotate(155)"/>
<circle class="in" r="40"/>
<text class="lbl" transform="rotate(115)"><textPath href="#ccw" startOffset="50%">STEP <tspan class="num">07</tspan></textPath></text>
<text class="nt" y="-12.3">Lorem Ipsum</text>
<text class="nb" x="-32" y="-5.3" textLength="64" lengthAdjust="spacingAndGlyphs">Lorem ipsum dolor sit amet, consectetur</text>
<text class="nb" x="-32" y="-0.8" textLength="64" lengthAdjust="spacingAndGlyphs">adipiscing elit, sed do eiusmod tempor</text>
<text class="nb" x="-32" y="3.7" textLength="64" lengthAdjust="spacingAndGlyphs">incididunt ut labore et dolore magna aliqua.</text>
<text class="nb" x="-32" y="8.2" textLength="64" lengthAdjust="spacingAndGlyphs">Ut enim ad minim veniam, quis nostrud</text>
<text class="nb" x="-32" y="12.7" textLength="64" lengthAdjust="spacingAndGlyphs">exercitation ullamco laboris nisi ut aliquip.</text>
</g>

<g id="p4-step08" class="dg" transform="translate(593.7,796.9)">
<circle class="ring" r="46" stroke-dasharray="231.2 57.8" transform="rotate(204)"/>
<circle class="in" r="40"/>
<text class="lbl" transform="rotate(168)"><textPath href="#ccw" startOffset="50%">STEP <tspan class="num">08</tspan></textPath></text>
<text class="nt" y="-12.3">Lorem Ipsum</text>
<text class="nb" x="-32" y="-5.3" textLength="64" lengthAdjust="spacingAndGlyphs">Lorem ipsum dolor sit amet, consectetur</text>
<text class="nb" x="-32" y="-0.8" textLength="64" lengthAdjust="spacingAndGlyphs">adipiscing elit, sed do eiusmod tempor</text>
<text class="nb" x="-32" y="3.7" textLength="64" lengthAdjust="spacingAndGlyphs">incididunt ut labore et dolore magna aliqua.</text>
<text class="nb" x="-32" y="8.2" textLength="64" lengthAdjust="spacingAndGlyphs">Ut enim ad minim veniam, quis nostrud</text>
<text class="nb" x="-32" y="12.7" textLength="64" lengthAdjust="spacingAndGlyphs">exercitation ullamco laboris nisi ut aliquip.</text>
</g>
</svg>
